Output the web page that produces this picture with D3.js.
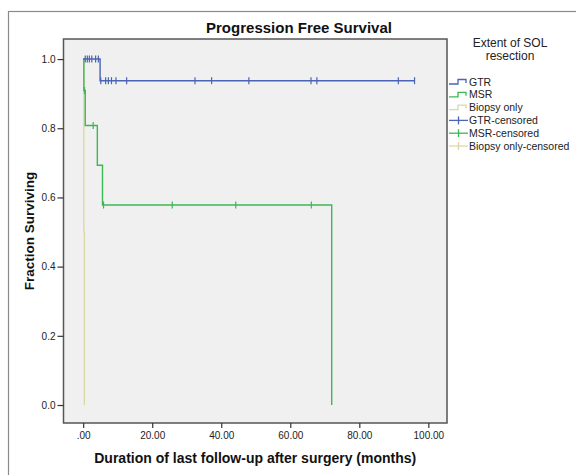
<!DOCTYPE html>
<html>
<head>
<meta charset="utf-8">
<script src="https://cdn.jsdelivr.net/npm/d3@7"></script>
<style>
  body { margin: 0; background: #fff; }
  svg { display: block; font-family: "Liberation Sans", Arial, sans-serif; }
</style>
</head>
<body>
<div id="chart"></div>
<script>
const WIDTH = 576;
const HEIGHT = 475;

// axis ticks
const xTicks = [0, 20, 40, 60, 80, 100];
const yTicks = [0, 0.2, 0.4, 0.6, 0.8, 1.0];

// GTR
const gtrEventTimes = [4.9];
const gtrSurvival = [1.0, 0.9375];
const gtrCensorTimes = [0.6, 1.2, 1.8, 2.5, 3.6, 4.4, 5.1, 6.5, 7.3, 8.2, 9.5, 12.6, 32.4, 37.2, 48.0, 66.0, 67.7, 91.3, 96.0];
const gtrLastTime = 96.0;

// MSR
const msrEventTimes = [0.2, 0.6, 4.1, 5.6, 72.0];
const msrSurvival = [1.0, 0.909, 0.808, 0.693, 0.578, 0.0];
const msrCensorTimes = [0.4, 2.9, 5.9, 25.8, 44.2, 66.1];
const msrLastTime = 72.0;

// Biopsy only
const bioEventTimes = [0.2, 0.35];
const bioSurvival = [1.0, 0.5, 0.0];
const bioCensorTimes = [];
const bioLastTime = 0.35;

const legendLabels = ["GTR", "MSR", "Biopsy only", "GTR-censored", "MSR-censored", "Biopsy only-censored"];

const COLORS = { gtr: "#4a64b6", msr: "#3cb853", bio: "#dcd8a6" };

const PLOT = { left: 63.5, right: 447, top: 39, bottom: 423 };

const x = d3.scaleLinear().domain([-5.7, 105.4]).range([PLOT.left, PLOT.right]);
const y = d3.scaleLinear().domain([-0.052, 1.058]).range([PLOT.bottom, PLOT.top]);

const svg = d3.select("#chart").append("svg")
  .attr("width", WIDTH)
  .attr("height", HEIGHT);

// outer chart frame
svg.append("rect")
  .attr("x", 8.5).attr("y", 11.5)
  .attr("width", 700).attr("height", 600)
  .attr("fill", "none")
  .attr("stroke", "#8a8a8a")
  .attr("stroke-width", 1.2);

// plot area
svg.append("rect")
  .attr("x", PLOT.left).attr("y", PLOT.top)
  .attr("width", PLOT.right - PLOT.left)
  .attr("height", PLOT.bottom - PLOT.top)
  .attr("fill", "#f0f0f0")
  .attr("stroke", "#555")
  .attr("stroke-width", 1.5);

// axes
const xAxis = svg.append("g")
  .attr("transform", `translate(0,${PLOT.bottom})`)
  .call(d3.axisBottom(x).tickValues(xTicks).tickSize(5).tickPadding(4)
    .tickFormat(d => d === 0 ? ".00" : d3.format(".2f")(d)));
xAxis.select(".domain").remove();

const yAxis = svg.append("g")
  .attr("transform", `translate(${PLOT.left},0)`)
  .call(d3.axisLeft(y).tickValues(yTicks).tickSize(6).tickPadding(2)
    .tickFormat(d3.format(".1f")));
yAxis.select(".domain").remove();

svg.selectAll(".tick line").attr("stroke", "#333").attr("stroke-width", 1.2);
svg.selectAll(".tick text")
  .attr("fill", "#222")
  .style("font-size", "10px")
  .style("font-family", "'Liberation Sans', Arial, sans-serif");

// titles
svg.append("text")
  .attr("x", 299).attr("y", 33)
  .attr("text-anchor", "middle")
  .style("font-size", "15px").style("font-weight", "bold")
  .attr("fill", "#111")
  .text("Progression Free Survival");

svg.append("text")
  .attr("x", (PLOT.left + PLOT.right) / 2).attr("y", 463)
  .attr("text-anchor", "middle")
  .style("font-size", "14px").style("font-weight", "bold")
  .attr("fill", "#111")
  .text("Duration of last follow-up after surgery (months)");

svg.append("text")
  .attr("transform", `translate(34,${(PLOT.top + PLOT.bottom) / 2}) rotate(-90)`)
  .attr("text-anchor", "middle")
  .style("font-size", "13.5px").style("font-weight", "bold")
  .attr("fill", "#111")
  .text("Fraction Surviving");

// survival curves
function stepPoints(eventTimes, survival, lastTime) {
  const pts = [[0, survival[0]]];
  eventTimes.forEach((t, i) => pts.push([t, survival[i + 1]]));
  if (lastTime > eventTimes[eventTimes.length - 1]) pts.push([lastTime, survival[survival.length - 1]]);
  return pts;
}

function survivalAt(t, eventTimes, survival) {
  let s = survival[0];
  eventTimes.forEach((et, i) => { if (t >= et) s = survival[i + 1]; });
  return s;
}

const line = d3.line()
  .x(d => x(d[0]))
  .y(d => y(d[1]))
  .curve(d3.curveStepAfter);

const series = [
  { key: "bio", events: bioEventTimes, surv: bioSurvival, censor: bioCensorTimes, last: bioLastTime },
  { key: "msr", events: msrEventTimes, surv: msrSurvival, censor: msrCensorTimes, last: msrLastTime },
  { key: "gtr", events: gtrEventTimes, surv: gtrSurvival, censor: gtrCensorTimes, last: gtrLastTime }
];

const curves = svg.append("g");

series.forEach(s => {
  curves.append("path")
    .datum(stepPoints(s.events, s.surv, s.last))
    .attr("d", line)
    .attr("fill", "none")
    .attr("stroke", COLORS[s.key])
    .attr("stroke-width", 1.4);

  curves.append("g")
    .selectAll("line")
    .data(s.censor)
    .enter()
    .append("line")
    .attr("x1", d => x(d)).attr("x2", d => x(d))
    .attr("y1", d => y(survivalAt(d, s.events, s.surv)) - 3.5)
    .attr("y2", d => y(survivalAt(d, s.events, s.surv)) + 3.5)
    .attr("stroke", COLORS[s.key])
    .attr("stroke-width", 1.2);
});

// legend
const legend = svg.append("g");
legend.append("text")
  .attr("x", 510).attr("y", 47)
  .attr("text-anchor", "middle")
  .style("font-size", "12px").attr("fill", "#222")
  .text("Extent of SOL");
legend.append("text")
  .attr("x", 510).attr("y", 60)
  .attr("text-anchor", "middle")
  .style("font-size", "12px").attr("fill", "#222")
  .text("resection");

const legendKeys = ["gtr", "msr", "bio", "gtr", "msr", "bio"];
legendLabels.forEach((label, i) => {
  const ly = 82 + i * 12.8;
  const col = COLORS[legendKeys[i]];
  if (i < 3) {
    legend.append("path")
      .attr("d", `M449,${ly + 2}H458V${ly - 2.5}H466V${ly + 1}`)
      .attr("fill", "none").attr("stroke", col).attr("stroke-width", 1.3);
  } else {
    legend.append("line")
      .attr("x1", 449).attr("x2", 468).attr("y1", ly).attr("y2", ly)
      .attr("stroke", col).attr("stroke-width", 1.3);
    legend.append("line")
      .attr("x1", 458.5).attr("x2", 458.5).attr("y1", ly - 4).attr("y2", ly + 4)
      .attr("stroke", col).attr("stroke-width", 1.3);
  }
  legend.append("text")
    .attr("x", 469).attr("y", ly + 3.5)
    .style("font-size", "10.5px").attr("fill", "#222")
    .text(label);
});
</script>
</body>
</html>
